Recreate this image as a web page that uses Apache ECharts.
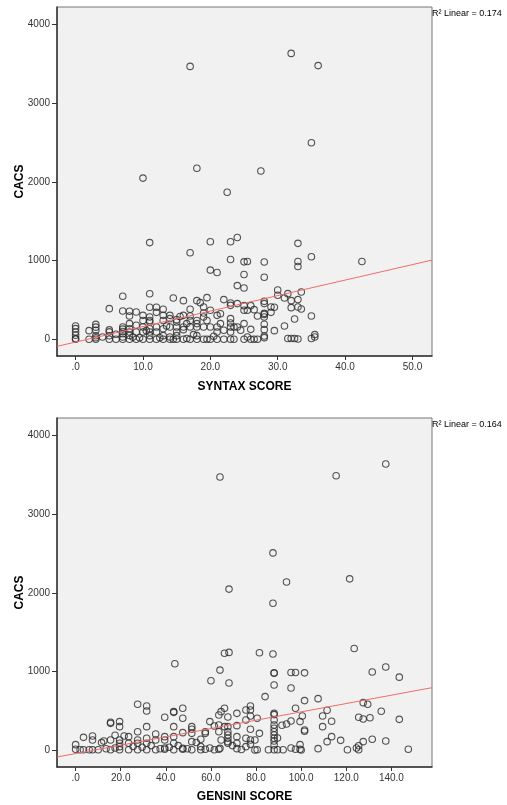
<!DOCTYPE html>
<html>
<head>
<meta charset="utf-8">
<script src="https://cdn.jsdelivr.net/npm/echarts@6/dist/echarts.min.js"></script>
<style>
html,body{margin:0;padding:0;background:#fff;}
#chart{width:507px;height:805px;}
</style>
</head>
<body>
<div id="chart"></div>
<script>
// ---- data ----
const syntaxPoints = [
 [17,3470],[32,3635],[36,3480],[35,2500],[10,2050],[18,2175],[27.5,2140],[22.5,1870],
 [11,1230],[20,1240],[23,1240],[24,1295],[17,1100],[23,1015],[25,985],[25.5,990],[28,983],[33,1220],[33,990],[33,925],[35,1050],[42.5,990],
 [20,880],[21,850],[25,825],[28,790],[24,683],[25,653],[30,627],[30,560],[31,526],[31.5,581],[33.5,602],[32,492],[33,505],[33,411],[33.5,386],[32,403],[32.5,259],[35,297],[31,170],[29.5,110],[29,411],[29.5,407],[29,343],
 [28,483],[28,454],[28,330],[28,317],[28,284],[28,191],[28,123],[28,42],[28,21],
 [31.5,10],[32,10],[32.5,10],[33,5],[35,10],[35.5,30],[35.5,60],
 [0,170],[0,136],[0,93],[0,51],[0,9],[0,0],
 [2,0],[2,110],
 [3,190],[3,155],[3,115],[3,45],[3,20],[3,0],
 [4,30],
 [5,390],[5,120],[5,95],[5,45],[5,0],
 [6,65],[6,0],
 [7,547],[7,360],[7,157],[7,130],[7,100],[7,72],[7,30],[7,0],
 [8,356],[8,297],[8,200],[8,135],[8,93],[8,50],[8,0],
 [9,348],[9,178],[9,93],[9,0],
 [10,305],[10,240],[10,157],[10,93],[10,0],
 [11,580],[11,407],[11,284],[11,240],[11,220],[11,135],[11,93],[11,47],[11,0],
 [12,407],[12,343],[12,157],[12,93],[12,0],
 [13,382],[13,305],[13,240],[13,135],[13,47],[13,0],
 [14,305],[14,263],[14,157],[14,30],[14,0],[14.5,526],[14.5,0],
 [15,250],[15,220],[15,157],[15,93],[15,47],[15,0],
 [16,492],[16,305],[16,157],[16,123],[16,0],
 [17,382],[17,297],[17,240],[17,157],[17,0],
 [18,492],[18,240],[18,200],[18,157],[18,47],[18,0],[18.5,466],
 [19,411],[19,335],[19,284],[19,157],[19,0],[19.5,530],[19.5,240],[19.5,0],
 [20,369],[20,157],[20,0],
 [21,305],[21,157],[21,93],[21,0],[21.5,326],[21.5,200],
 [22,505],[22,115],[22,0],
 [23,462],[23,432],[23,263],[23,208],[23,157],[23,93],[23,0],[23.5,157],[23.5,0],
 [24,454],[24,157],[24.5,115],
 [25,428],[25,369],[25,200],[25,0],[25.5,369],[25.5,30],
 [26,428],[26,127],[26,0],[26.5,377],[26.5,0],[27,297],[27,0],
 [9.5,20],[12.5,20],[16.5,10],[17.5,60],[20.5,40],[13.5,170],[15.5,290],[16.5,200],[10.5,110],[8.5,30]
];
const gensiniPoints = [
 [64,3475],[115.5,3490],[137.5,3640],[87.5,2510],[121.5,2180],[93.5,2140],[68,2050],[87.5,1870],
 [44,1100],[66,1235],[68,1245],[81.5,1240],[87.5,1225],[64,1020],[88,985],[88,980],[95.5,990],[97.5,990],[101.5,985],[123.5,1295],[131.5,995],[137.5,1060],[143.5,930],
 [60,885],[68,855],[88,830],[95.5,793],[84,683],[107.5,657],[101.5,632],[111.5,509],[109.5,437],[100.5,437],[97.5,534],[127.5,606],[129.5,585],[135.5,496],[125.5,420],[127.5,398],[130.5,415],[143.5,394],[113.5,369],[109.5,301],[101.5,259],[101.5,242],[99.5,365],[95.5,373],[93.5,335],[91.5,318],
 [113.5,174],[111.5,110],[117.5,127],[127.5,110],[131.5,140],[137.5,119],[107.5,21],[120.5,8],[124.5,30],[125.5,59],[125.5,8],[147.5,13],
 [99.5,72],[99.5,13],[100,5],[95.5,30],[97.5,13],[89.5,157],[89.5,8],
 [88,470],[88,454],[88,386],[88,322],[88,280],[88,237],[88,195],[88,153],[88,119],[88,68],[88,8],
 [81.5,216],[80.5,407],[79.5,131],[79.5,4],[80.5,8],
 [77.5,564],[77.5,513],[77.5,437],[77.5,267],[77.5,131],[77.5,76],
 [75.5,513],[75.5,386],[75.5,153],[75.5,47],
 [71.5,470],[71.5,314],[71.5,174],[71.5,89],[71.5,21],
 [67.5,424],[67.5,301],[67.5,237],[67.5,195],[67.5,153],[67.5,110],[67.5,90],
 [66,534],[64.5,492],[63.5,449],[63.5,322],[66,301],[63.5,237],[64.5,131],[63.5,13],[64,25],
 [61.5,310],[59.5,365],[57.5,237],[57.5,216],[57.5,13],
 [55.5,140],[55.5,47],[55.5,8],
 [51.5,301],[51.5,267],[51.5,216],[51.5,110],[51.5,8],
 [47.5,534],[47.5,407],[47.5,225],[47.5,13],[47.5,25],
 [43.5,492],[43.5,483],[43.5,301],[43.5,174],[43.5,89],[43.5,8],
 [39.5,420],[39.5,174],[39.5,131],[39.5,13],[39.5,30],
 [35.5,208],[35.5,131],[35.5,8],
 [31.5,564],[31.5,500],[31.5,301],[31.5,153],[31.5,89],[31.5,8],
 [27.5,585],[27.5,237],[27.5,131],[27.5,89],[27.5,8],
 [23.5,174],[23.5,89],[23.5,8],
 [19.5,365],[19.5,301],[19.5,131],[19.5,89],[19.5,47],[19.5,8],
 [15.5,356],[15.5,343],[15.5,131],[15.5,8],
 [17.5,191],[11.5,98],[12.5,119],
 [7.5,182],[7.5,131],[7.5,8],
 [3.5,165],[3.5,8],[0,72],[0,13],[2,8],[6,8],[10,8],[21.5,182],
 [13.5,20],[17.5,30],[25.5,50],[29.5,40],[33.5,60],[37.5,20],[41.5,40],[45.5,60],[49.5,20],[53.5,100],[59.5,30],[61.5,8],[69.5,60],[73.5,10],[85.5,8],[92,8]
];
const syntaxFit = {intercept: -35, slope: 19.7, r2: '0.174'};
const gensiniFit = {intercept: -41, slope: 5.3, r2: '0.164'};
const syntaxTicks = [0,10,20,30,40,50];
const gensiniTicks = [0,20,40,60,80,100,120,140];
const cacsTicks = [0,1000,2000,3000,4000];
const syntaxRange = [-2.76, 52.9];
const gensiniRange = [-8.25, 158];
const cacsRange = [-212, 4225];

// ---- chart ----
const FONT = 'Liberation Sans, Arial, sans-serif';
const fmtX = v => (v === 0 ? '.0' : v.toFixed(1));
const fmtY = v => String(Math.round(v));
function fitLine(fit, range){
  return range.map(x => [x, fit.intercept + fit.slope * x]);
}
function xAxis(idx, range, ticks, name, gap){
  return {
    type:'value', gridIndex:idx, min:range[0], max:range[1],
    name:name, nameLocation:'middle', nameGap:gap,
    nameTextStyle:{fontFamily:FONT, fontSize:12, fontWeight:'bold', color:'#000'},
    axisLine:{show:true, onZero:false, lineStyle:{color:'#333', width:1.5}},
    axisTick:{show:true, length:4, customValues:ticks, lineStyle:{color:'#333'}},
    axisLabel:{customValues:ticks, formatter:fmtX, margin:6, fontFamily:FONT, fontSize:10, color:'#333'},
    splitLine:{show:false}
  };
}
function yAxis(idx){
  return {
    type:'value', gridIndex:idx, min:cacsRange[0], max:cacsRange[1],
    name:'CACS', nameLocation:'middle', nameGap:31, nameMoveOverlap:false,
    nameTextStyle:{fontFamily:FONT, fontSize:12, fontWeight:'bold', color:'#000'},
    axisLine:{show:true, onZero:false, lineStyle:{color:'#333', width:1.5}},
    axisTick:{show:true, length:5, customValues:cacsTicks, lineStyle:{color:'#333'}},
    axisLabel:{customValues:cacsTicks, formatter:fmtY, margin:7, fontFamily:FONT, fontSize:10, color:'#333'},
    splitLine:{show:false}
  };
}
const scatterStyle = {color:'rgba(0,0,0,0)', borderColor:'#2a2a2a', borderWidth:1.1};
const gridBase = {left:57, width:375, height:349, show:true, backgroundColor:'#f1f1f1', borderColor:'#777', borderWidth:1, containLabel:false, outerBoundsMode:'none'};
const option = {
  animation:false,
  backgroundColor:'#fff',
  grid:[
    Object.assign({top:7}, gridBase),
    Object.assign({top:418}, gridBase)
  ],
  xAxis:[ xAxis(0, syntaxRange, syntaxTicks, 'SYNTAX SCORE', 25), xAxis(1, gensiniRange, gensiniTicks, 'GENSINI SCORE', 24) ],
  yAxis:[ yAxis(0), yAxis(1) ],
  series:[
    {type:'scatter', xAxisIndex:0, yAxisIndex:0, data:syntaxPoints, symbol:'circle', symbolSize:6.5, itemStyle:scatterStyle, silent:true},
    {type:'line', xAxisIndex:0, yAxisIndex:0, data:fitLine(syntaxFit, syntaxRange), symbol:'none', lineStyle:{color:'#f06c6c', width:1}, silent:true},
    {type:'scatter', xAxisIndex:1, yAxisIndex:1, data:gensiniPoints, symbol:'circle', symbolSize:6.5, itemStyle:scatterStyle, silent:true},
    {type:'line', xAxisIndex:1, yAxisIndex:1, data:fitLine(gensiniFit, gensiniRange), symbol:'none', lineStyle:{color:'#f06c6c', width:1}, silent:true}
  ],
  graphic:[
    {type:'text', left:432, top:9, style:{text:'R² Linear = ' + syntaxFit.r2, fontFamily:FONT, fontSize:9, fill:'#000'}},
    {type:'text', left:432, top:420, style:{text:'R² Linear = ' + gensiniFit.r2, fontFamily:FONT, fontSize:9, fill:'#000'}}
  ]
};
const chart = echarts.init(document.getElementById('chart'), null, {renderer:'canvas'});
chart.setOption(option);
</script>
</body>
</html>
